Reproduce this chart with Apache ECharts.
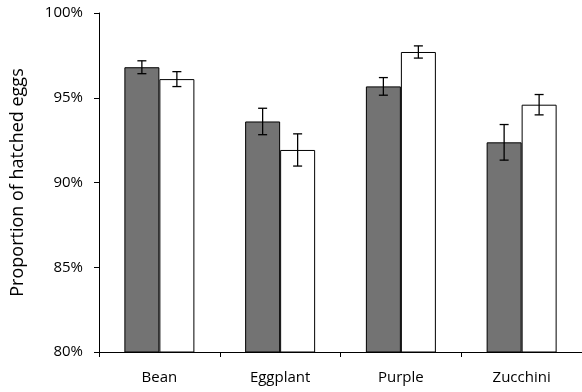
<!DOCTYPE html>
<html>
<head>
<meta charset="utf-8">
<script src="https://cdn.jsdelivr.net/npm/echarts@6/dist/echarts.min.js"></script>
<style>
  html, body { margin: 0; padding: 0; background: #fff; }
  #chart { width: 582px; height: 392px; }
</style>
</head>
<body>
<div id="chart"></div>
<script>
const categories = ['Bean', 'Eggplant', 'Purple', 'Zucchini'];
const darkValues = [96.8, 93.6, 95.67, 92.37];
const darkErrors = [0.38, 0.78, 0.52, 1.05];
const whiteValues = [96.1, 91.92, 97.7, 94.59];
const whiteErrors = [0.44, 0.95, 0.36, 0.6];
const yTicks = [80, 85, 90, 95, 100];

const BAR_W = 35;
const CAP = 4.5;

function errorSeries(values, errors, shift) {
  return {
    type: 'custom',
    z: 10,
    data: values.map((v, i) => [i, v - errors[i], v + errors[i]]),
    renderItem(params, api) {
      const lo = api.coord([api.value(0), api.value(1)]);
      const hi = api.coord([api.value(0), api.value(2)]);
      const x = lo[0] + shift;
      const style = { stroke: '#000', lineWidth: 1.3 };
      return {
        type: 'group',
        children: [
          { type: 'line', shape: { x1: x, y1: lo[1], x2: x, y2: hi[1] }, style },
          { type: 'line', shape: { x1: x - CAP, y1: lo[1], x2: x + CAP, y2: lo[1] }, style },
          { type: 'line', shape: { x1: x - CAP, y1: hi[1], x2: x + CAP, y2: hi[1] }, style }
        ]
      };
    }
  };
}

const chart = echarts.init(document.getElementById('chart'));
chart.setOption({
  animation: false,
  textStyle: { fontFamily: 'Open Sans' },
  grid: { left: 99, right: 0, top: 13, bottom: 40, outerBoundsMode: 'none' },
  xAxis: {
    type: 'category',
    data: categories,
    axisLine: { lineStyle: { color: '#000', width: 1 } },
    axisTick: { show: true, length: 5, lineStyle: { color: '#000' } },
    axisLabel: { color: '#000', fontSize: 15, margin: 18 }
  },
  yAxis: {
    type: 'value',
    min: yTicks[0],
    max: yTicks[yTicks.length - 1],
    interval: 5,
    name: 'Proportion of hatched eggs',
    nameLocation: 'middle',
    nameGap: 72,
    nameTextStyle: { color: '#000', fontSize: 18 },
    axisLine: { show: true, lineStyle: { color: '#000', width: 1 } },
    axisTick: { show: true, length: 5, lineStyle: { color: '#000' } },
    axisLabel: { color: '#000', fontSize: 15, margin: 16, formatter: '{value}%' },
    splitLine: { show: false }
  },
  series: [
    {
      type: 'bar',
      data: darkValues,
      barWidth: BAR_W,
      barGap: '0%',
      itemStyle: { color: '#737373', borderColor: '#000', borderWidth: 1 }
    },
    {
      type: 'bar',
      data: whiteValues,
      barWidth: BAR_W,
      barGap: '0%',
      itemStyle: { color: '#fff', borderColor: '#000', borderWidth: 1 }
    },
    errorSeries(darkValues, darkErrors, -BAR_W / 2),
    errorSeries(whiteValues, whiteErrors, BAR_W / 2)
  ]
});
</script>
</body>
</html>
